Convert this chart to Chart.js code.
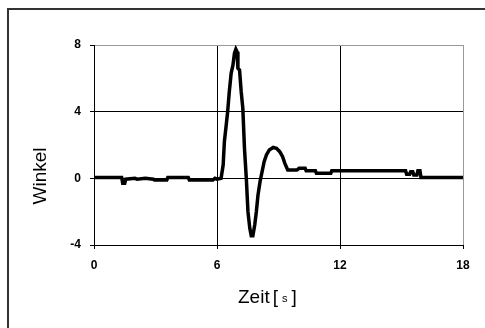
<!DOCTYPE html>
<html>
<head>
<meta charset="utf-8">
<script src="https://cdn.jsdelivr.net/npm/chart.js@4"></script>
<style>
  body { margin: 0; background: #fff; overflow: hidden; }
  #frame { position: absolute; left: 7px; top: 8px; width: 500px; height: 340px; border: 2px solid #333; }
  #chart { position: absolute; left: 0; top: 0; }
</style>
</head>
<body>
<div id="frame"></div>
<canvas id="chart" width="485" height="328"></canvas>
<script>
// Zeit [s] und Winkel
var zeit = [0, 1.35, 1.4, 1.5, 1.55, 2.0, 2.1, 2.5, 2.9, 2.95, 3.55, 3.6, 4.6, 4.65, 5.8, 5.9, 6.0, 6.2,
  6.3, 6.36, 6.45, 6.52, 6.6, 6.69, 6.78, 6.85, 6.92, 6.98, 7.02, 7.1, 7.18, 7.26, 7.34, 7.43,
  7.51, 7.6, 7.67, 7.75, 7.84, 7.92, 8.0, 8.1, 8.2, 8.3, 8.41, 8.55, 8.74, 8.9, 9.06, 9.2, 9.31,
  9.45, 9.9, 10.0, 10.3, 10.35, 10.8, 10.85, 11.55, 11.6, 15.2, 15.25, 15.4, 15.45, 15.55, 15.6,
  15.75, 15.8, 15.9, 15.95, 18];
var winkel = [0.05, 0.05, -0.3, -0.3, -0.05, 0.0, -0.05, 0.0, -0.05, -0.1, -0.1, 0.05, 0.05, -0.1, -0.1, 0.0, -0.05, 0.0,
  0.8, 2.2, 3.2, 4.0, 5.2, 6.3, 6.8, 7.5, 7.75, 7.6, 6.6, 6.5, 5.2, 4.2, 1.8, 0.0,
  -2.0, -3.0, -3.45, -3.45, -2.8, -2.0, -1.0, -0.2, 0.4, 1.0, 1.4, 1.7, 1.85, 1.8, 1.6, 1.3, 0.9,
  0.5, 0.5, 0.6, 0.6, 0.45, 0.45, 0.3, 0.3, 0.45, 0.45, 0.25, 0.25, 0.4, 0.4, 0.2,
  0.2, 0.45, 0.45, 0.05, 0.05];
var xTicks = [0, 6, 12, 18];
var yTicks = [-4, 0, 4, 8];

var punkte = zeit.map(function(t, i) { return {x: t, y: winkel[i]}; });

// Achsentitel selbst zeichnen: "Winkel" sitzt tiefer, das "s" bei Zeit ist klein
var achsenTitel = {
  id: 'achsenTitel',
  afterDraw: function(chart) {
    var c = chart.ctx;
    c.save();
    c.fillStyle = '#000';
    c.textBaseline = 'middle';
    c.font = '19px Arial';
    c.save();
    c.translate(41, 176);
    c.rotate(-Math.PI / 2);
    c.textAlign = 'center';
    c.fillText('Winkel', 0, 0);
    c.restore();

    var y = 298, x = 238;
    c.textAlign = 'left';
    c.font = '19px Arial';
    c.fillText('Zeit', x, y);
    x += c.measureText('Zeit').width + 3;
    c.fillText('[', x, y);
    x += c.measureText('[').width + 4;
    c.font = '11px Arial';
    c.fillText('s', x, y + 1);
    x += c.measureText('s').width + 4;
    c.font = '19px Arial';
    c.fillText(']', x, y);
    c.restore();
  }
};

var ctx = document.getElementById("chart").getContext('2d');
var myChart = new Chart(ctx, {
  type: 'line',
  data: {
    datasets: [{
      label: 'Winkel',
      data: punkte,
      borderColor: '#000',
      borderWidth: 3.5,
      pointRadius: 0,
      tension: 0
    }]
  },
  options: {
    responsive: false,
    animation: false,
    layout: { padding: { left: 0, top: 45, right: 22, bottom: 0 } },
    plugins: { legend: { display: false }, tooltip: { enabled: false } },
    scales: {
      x: {
        type: 'linear',
        min: xTicks[0],
        max: xTicks[xTicks.length - 1],
        afterBuildTicks: function(s) { s.ticks = xTicks.map(function(v) { return {value: v}; }); },
        afterFit: function(s) { s.height = 83; },
        grid: {
          color: function(c) { return c.tick && c.tick.value === 18 ? '#999' : '#000'; },
          tickColor: '#000',
          tickLength: 4
        },
        border: { color: '#000', width: 1 },
        ticks: { color: '#000', padding: 9, font: { family: 'Arial', size: 12, weight: 'bold' } }
      },
      y: {
        min: yTicks[0],
        max: yTicks[yTicks.length - 1],
        afterBuildTicks: function(s) { s.ticks = yTicks.map(function(v) { return {value: v}; }); },
        afterFit: function(s) { s.width = 94; },
        grid: {
          color: function(c) { return c.tick && c.tick.value === 8 ? '#999' : '#000'; },
          tickColor: '#000',
          tickLength: 4
        },
        border: { color: '#000', width: 1 },
        ticks: { color: '#000', padding: 9, font: { family: 'Arial', size: 12, weight: 'bold' } }
      }
    }
  },
  plugins: [achsenTitel]
});
</script>
</body>
</html>
